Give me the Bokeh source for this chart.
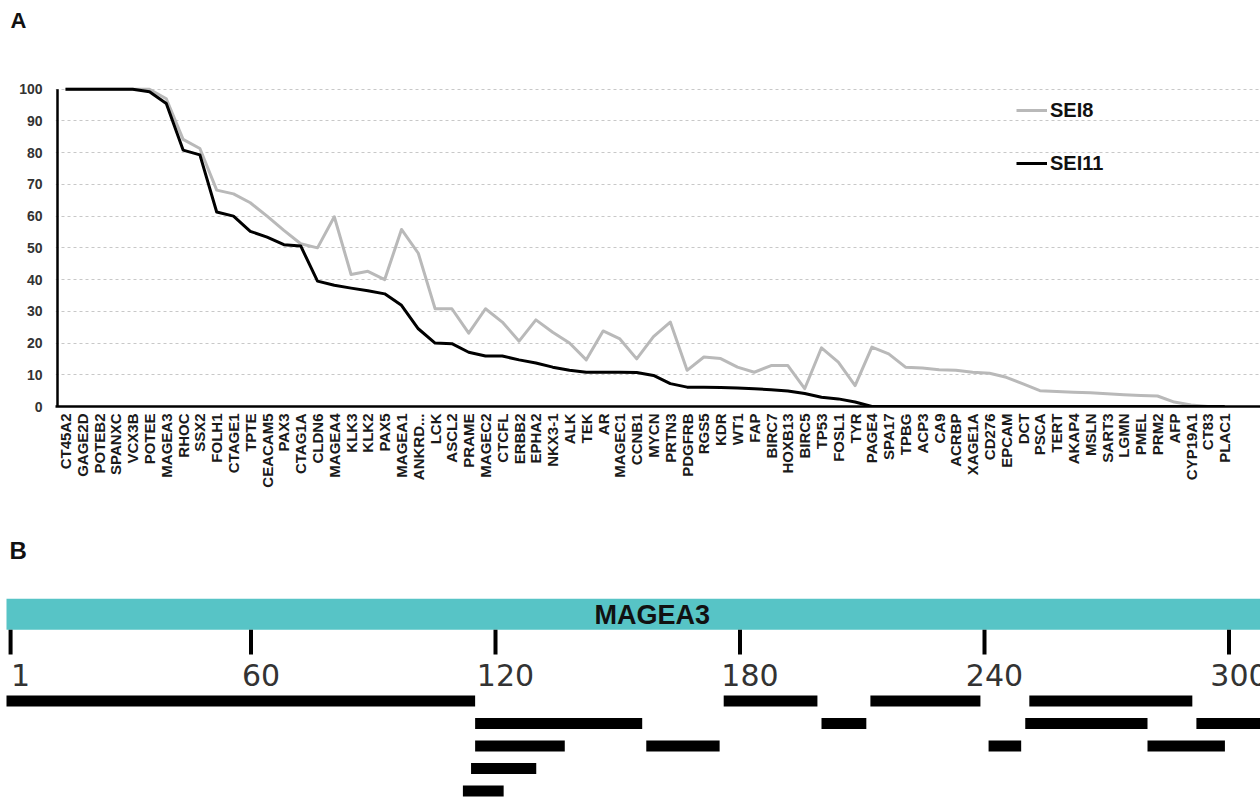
import numpy as np
from bokeh.plotting import figure
from bokeh.models import Range1d, FixedTicker, Legend, LegendItem, Label
from bokeh.core.properties import value
from bokeh.embed import file_html
from bokeh.resources import INLINE

# ---------------- Panel A data ----------------
genes = ["CT45A2", "GAGE2D", "POTEB2", "SPANXC", "VCX3B", "POTEE", "MAGEA3", "RHOC",
         "SSX2", "FOLH1", "CTAGE1", "TPTE", "CEACAM5", "PAX3", "CTAG1A", "CLDN6",
         "MAGEA4", "KLK3", "KLK2", "PAX5", "MAGEA1", "ANKRD...", "LCK", "ASCL2",
         "PRAME", "MAGEC2", "CTCFL", "ERBB2", "EPHA2", "NKX3-1", "ALK", "TEK", "AR",
         "MAGEC1", "CCNB1", "MYCN", "PRTN3", "PDGFRB", "RGS5", "KDR", "WT1", "FAP",
         "BIRC7", "HOXB13", "BIRC5", "TP53", "FOSL1", "TYR", "PAGE4", "SPA17", "TPBG",
         "ACP3", "CA9", "ACRBP", "XAGE1A", "CD276", "EPCAM", "DCT", "PSCA", "TERT",
         "AKAP4", "MSLN", "SART3", "LGMN", "PMEL", "PRM2", "AFP", "CYP19A1", "CT83",
         "PLAC1"]

sei8 = [100, 100, 100, 100, 100, 100, 97, 84.2, 81.3, 68.2,
        67, 64.2, 60, 55.5, 51.3, 50, 59.8, 41.6, 42.6, 40,
        55.8, 48.3, 30.8, 30.8, 23.1, 30.8, 26.6, 20.6, 27.3, 23.4,
        20, 14.7, 23.8, 21.3, 15, 22, 26.6, 11.4, 15.6, 15.1,
        12.4, 10.8, 12.9, 12.9, 5.6, 18.5, 14, 6.6, 18.7, 16.6,
        12.4, 12.1, 11.6, 11.4, 10.8, 10.5, 9.2, 7.1, 5, 4.7,
        4.5, 4.3, 4, 3.7, 3.5, 3.3, 1.4, 0.5, 0, 0]

sei11 = [100, 100, 100, 100, 100, 99.2, 95.5, 80.8, 79.3, 61.3,
         60, 55.2, 53.4, 51, 50.6, 39.5, 38.2, 37.3, 36.5, 35.5,
         31.9, 24.5, 20, 19.8, 17.1, 15.9, 15.9, 14.7, 13.7, 12.4,
         11.4, 10.8, 10.8, 10.8, 10.7, 9.8, 7.2, 6.1, 6.1, 6.0,
         5.8, 5.6, 5.3, 4.9, 4.1, 2.9, 2.4, 1.4, 0, 0,
         0, 0, 0, 0, 0, 0, 0, 0, 0, 0,
         0, 0, 0, 0, 0, 0, 0, 0, 0, 0]

series_names = ["SEI8", "SEI11"]
y_ticks = list(range(0, 101, 10))

# ---------------- Panel B data ----------------
protein_name = "MAGEA3"
protein_length = 314
pos_ticks = [1, 60, 120, 180, 240, 300]
pos_tick_labels = ["1", "60", "120", "180", "240", "300"]
pep_start = [1, 177, 213, 252, 116, 201, 251, 293, 116, 158, 242, 281, 115, 113]
pep_end = [115, 199, 239, 291, 156, 211, 280, 314, 137, 175, 249, 299, 130, 122]
pep_row = [0, 0, 0, 0, 1, 1, 1, 1, 2, 2, 2, 2, 3, 4]

panel_letters = ["A", "B"]

FONT = "Liberation Sans"
W = 1260

# ================= Header with panel letter A =================
HH = 40
pH = figure(width=W, height=HH, output_backend="svg", toolbar_location=None,
            x_range=Range1d(0, W), y_range=Range1d(HH, 0),
            x_axis_type=None, y_axis_type=None, min_border=0)
pH.outline_line_color = None
pH.grid.visible = False
pH.add_layout(Label(x=10, y=20, text=panel_letters[0], text_font=FONT,
                    text_font_size="22px", text_font_style="bold", text_color="#111111",
                    text_baseline="alphabetic", text_align="left"))

# ================= Panel A =================
px_per_cat = 16.8
left_border = 55
frame_w = W - left_border
x0 = -0.595
pA = figure(width=W, height=488, output_backend="svg", toolbar_location=None,
            x_range=Range1d(x0, x0 + frame_w / px_per_cat), y_range=Range1d(0, 104),
            min_border_left=left_border, min_border_right=0,
            min_border_top=36, min_border_bottom=122)
pA.outline_line_color = None
pA.background_fill_color = "white"

xs = list(range(len(genes)))
r8 = pA.line(xs, sei8, line_color="#b9b9b9", line_width=3, line_join="round")
r11 = pA.line(xs, sei11, line_color="black", line_width=3, line_join="round")

# y axis line only from 0 to 100
ax_x = x0 + 2.0 / px_per_cat
pA.segment(x0=[ax_x], y0=[y_ticks[0]], x1=[ax_x], y1=[y_ticks[-1]],
           line_color="black", line_width=2.5)

pA.xaxis.ticker = FixedTicker(ticks=xs)
pA.xaxis.major_label_overrides = {i: g for i, g in enumerate(genes)}
pA.xaxis.major_label_orientation = np.pi / 2
pA.xaxis.major_label_text_font = FONT
pA.xaxis.major_label_text_font_size = "15px"
pA.xaxis.major_label_text_font_style = "bold"
pA.xaxis.major_label_text_color = "#1a1a1a"
pA.xaxis.major_label_standoff = 7
pA.xaxis.major_tick_in = 0
pA.xaxis.major_tick_out = 0
pA.xaxis.minor_tick_line_color = None
pA.xaxis.axis_line_color = "black"
pA.xaxis.axis_line_width = 2.5

pA.yaxis.ticker = FixedTicker(ticks=y_ticks)
pA.yaxis.major_label_text_font = FONT
pA.yaxis.major_label_text_font_size = "14px"
pA.yaxis.major_label_text_font_style = "bold"
pA.yaxis.major_label_text_color = "#333333"
pA.yaxis.major_label_standoff = 13
pA.yaxis.major_tick_in = 0
pA.yaxis.major_tick_out = 0
pA.yaxis.minor_tick_line_color = None
pA.yaxis.axis_line_color = None

pA.xgrid.visible = False
pA.ygrid.grid_line_color = "#c8c8c8"
pA.ygrid.grid_line_dash = "3 3"
pA.ygrid.grid_line_width = 1

legend = Legend(items=[LegendItem(label=series_names[0], renderers=[r8]),
                       LegendItem(label=series_names[1], renderers=[r11])],
                location=(961, 231), orientation="vertical",
                glyph_width=31, glyph_height=24, label_height=24, spacing=29,
                padding=0, margin=0, label_standoff=3,
                label_text_font=FONT, label_text_font_size="20px",
                label_text_font_style="bold", label_text_color="#111111",
                border_line_color=None, background_fill_alpha=0)
pA.add_layout(legend)

# ================= Panel B =================
HB = 271
px_per_res = 4.075
bx0 = -6.0 / px_per_res
pB = figure(width=W, height=HB, output_backend="svg", toolbar_location=None,
            x_range=Range1d(bx0, bx0 + W / px_per_res), y_range=Range1d(HB, 0),
            x_axis_type=None, y_axis_type=None, min_border=0)
pB.outline_line_color = None
pB.grid.visible = False

# protein bar
pB.quad(left=[0], right=[protein_length], top=[70.3], bottom=[101.3],
        fill_color="#57c4c6", line_color=None)
pB.text(x=[protein_length / 2], y=[86], text=[protein_name], x_offset=6,
        text_font=value(FONT), text_font_size="27px", text_font_style="bold",
        text_color="#111111", text_align="center", text_baseline="alphabetic")

# position ticks
pB.segment(x0=pos_ticks, y0=[101.3] * len(pos_ticks), x1=pos_ticks, y1=[126] * len(pos_ticks),
           line_color="black", line_width=4)
pB.text(x=pos_ticks, y=[146] * len(pos_ticks), text=pos_tick_labels, x_offset=10,
        text_font=value("DejaVu Sans"), text_font_size="30px", text_color="#333333",
        text_align="center", text_baseline="alphabetic")

# peptides
row_y0, row_step, bar_h = 172.5, 22.5, 11
pB.quad(left=[s - 1 for s in pep_start], right=pep_end,
        top=[row_y0 + r * row_step - bar_h / 2 for r in pep_row],
        bottom=[row_y0 + r * row_step + bar_h / 2 for r in pep_row],
        fill_color="black", line_color=None)

pB.add_layout(Label(x=0.74, y=22, text=panel_letters[1], text_font=FONT, text_font_size="24px",
                    text_font_style="bold", text_color="#111111",
                    text_baseline="alphabetic", text_align="left"))

open("out.html", "w").write(file_html([pH, pA, pB], INLINE))
